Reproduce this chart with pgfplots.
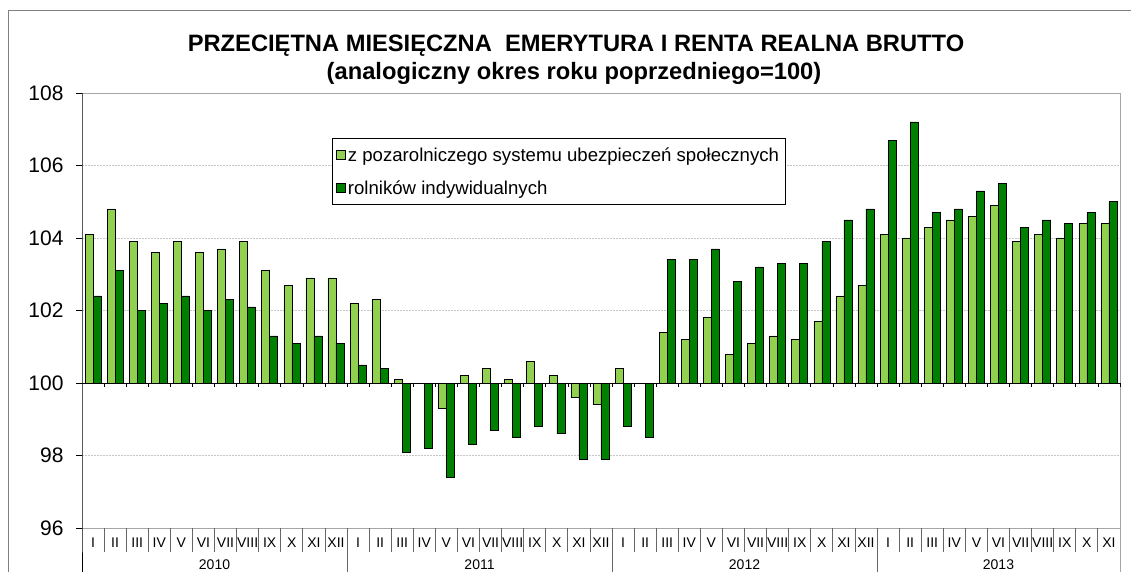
\documentclass[border=0pt]{standalone}
\usepackage{fontspec}
\setmainfont{Liberation Sans}
\usepackage{pgfplots}
\pgfplotsset{compat=1.18}
\usepackage{pgfplotstable}
\definecolor{lgreen}{HTML}{92D050}
\definecolor{dgreen}{HTML}{008000}

\pgfplotstableread{
x a b
0 104.1 102.4
1 104.8 103.1
2 103.9 102.0
3 103.6 102.2
4 103.9 102.4
5 103.6 102.0
6 103.7 102.3
7 103.9 102.1
8 103.1 101.3
9 102.7 101.1
10 102.9 101.3
11 102.9 101.1
12 102.2 100.5
13 102.3 100.4
14 100.1 98.1
15 100.0 98.2
16 99.3 97.4
17 100.2 98.3
18 100.4 98.7
19 100.1 98.5
20 100.6 98.8
21 100.2 98.6
22 99.6 97.9
23 99.4 97.9
24 100.4 98.8
25 100.0 98.5
26 101.4 103.4
27 101.2 103.4
28 101.8 103.7
29 100.8 102.8
30 101.1 103.2
31 101.3 103.3
32 101.2 103.3
33 101.7 103.9
34 102.4 104.5
35 102.7 104.8
36 104.1 106.7
37 104.0 107.2
38 104.3 104.7
39 104.5 104.8
40 104.6 105.3
41 104.9 105.5
42 103.9 104.3
43 104.1 104.5
44 104.0 104.4
45 104.4 104.7
46 104.4 105.0
}\data

\begin{document}
\begin{tikzpicture}[x=1pt,y=1pt]
\useasboundingbox (0,0) rectangle (1131,571);
\draw[gray, line width=1pt] (8,-20) -- (8,560) -- (1150,560);
\node[font=\fontsize{23.7}{26}\selectfont\bfseries, anchor=base] at (576,519) {PRZECIĘTNA MIESIĘCZNA\ \ EMERYTURA I RENTA REALNA BRUTTO};
\node[font=\fontsize{23.7}{26}\selectfont\bfseries, anchor=base] at (574,491) {(analogiczny okres roku poprzedniego=100)};
\begin{axis}[
  at={(82pt,43pt)}, anchor=south west,
  scale only axis, width=1038pt, height=435pt,
  xmin=-0.5, xmax=46.5, ymin=-4, ymax=8,
  clip=false,
  axis line style={draw=none},
  ybar=0pt, bar width=8pt,
  xtick={0,...,46},
  xticklabels={I,II,III,IV,V,VI,VII,VIII,IX,X,XI,XII,I,II,III,IV,V,VI,VII,VIII,IX,X,XI,XII,I,II,III,IV,V,VI,VII,VIII,IX,X,XI,XII,I,II,III,IV,V,VI,VII,VIII,IX,X,XI},
  x tick style={draw=none},
  xticklabel style={anchor=center, yshift=-9pt, font=\fontsize{14}{14}\selectfont},
  ytick={-4,-2,...,8},
  yticklabels={96,98,100,102,104,106,108},
  ytick pos=left,
  tick align=outside,
  major tick length=6pt,
  y tick style={black, line width=0.8pt},
  yticklabel style={font=\fontsize{21}{21}\selectfont, xshift=-9pt},
  /pgf/number format/assume math mode=true,
  ymajorgrids,
  major grid style={gray!45, dash pattern=on 2pt off 1pt, line width=0.8pt},
  legend style={at={(0.2408,0.8966)}, anchor=north west, draw=black, line width=0.8pt, fill=white,
    font=\fontsize{18.6}{18.6}\selectfont, inner xsep=4pt, inner ysep=7pt, row sep=14pt},
  legend cell align=left,
  legend image code/.code={\draw[#1, line width=0.6pt] (0pt,-4.5pt) rectangle (9pt,4.5pt);},
]
\addplot[fill=lgreen, draw=black, line width=0.6pt] table[x=x, y expr=\thisrow{a}-100] {\data};
\addplot[fill=dgreen, draw=black, line width=0.6pt] table[x=x, y expr=\thisrow{b}-100] {\data};
\legend{z pozarolniczego systemu ubezpieczeń społecznych, rolników indywidualnych}
\draw[gray!70, line width=0.8pt] (axis cs:-0.5,8) -- (axis cs:46.5,8);
\draw[gray!70, line width=0.8pt] (axis cs:-0.5,-4) -- (axis cs:46.5,-4);
\draw[gray!70, line width=0.8pt] (axis cs:46.5,8) -- (axis cs:46.5,-4) -- ++(0pt,-50pt);
\draw[black, line width=0.8pt] (axis cs:-0.5,8) -- (axis cs:-0.5,-4) -- ++(0pt,-50pt);
\draw[black, line width=0.8pt] (axis cs:-0.5,0) -- (axis cs:46.5,0);
\pgfplotsinvokeforeach{0.5,1.5,...,46.5}{\draw[black, line width=0.6pt] (axis cs:#1,0) -- ++(0pt,-4pt);}
\pgfplotsinvokeforeach{0.5,1.5,...,45.5}{\draw[black!60, line width=0.8pt] (axis cs:#1,-4) -- ++(0pt,-24pt);}
\pgfplotsinvokeforeach{11.5,23.5,35.5}{\draw[black!60, line width=0.8pt] (axis cs:#1,-4) -- ++(0pt,-50pt);}
\node[font=\fontsize{14}{14}\selectfont, anchor=base] at ([yshift=-41pt]axis cs:5.5,-4) {2010};
\node[font=\fontsize{14}{14}\selectfont, anchor=base] at ([yshift=-41pt]axis cs:17.5,-4) {2011};
\node[font=\fontsize{14}{14}\selectfont, anchor=base] at ([yshift=-41pt]axis cs:29.5,-4) {2012};
\node[font=\fontsize{14}{14}\selectfont, anchor=base] at ([yshift=-41pt]axis cs:41,-4) {2013};
\end{axis}
\end{tikzpicture}
\end{document}
